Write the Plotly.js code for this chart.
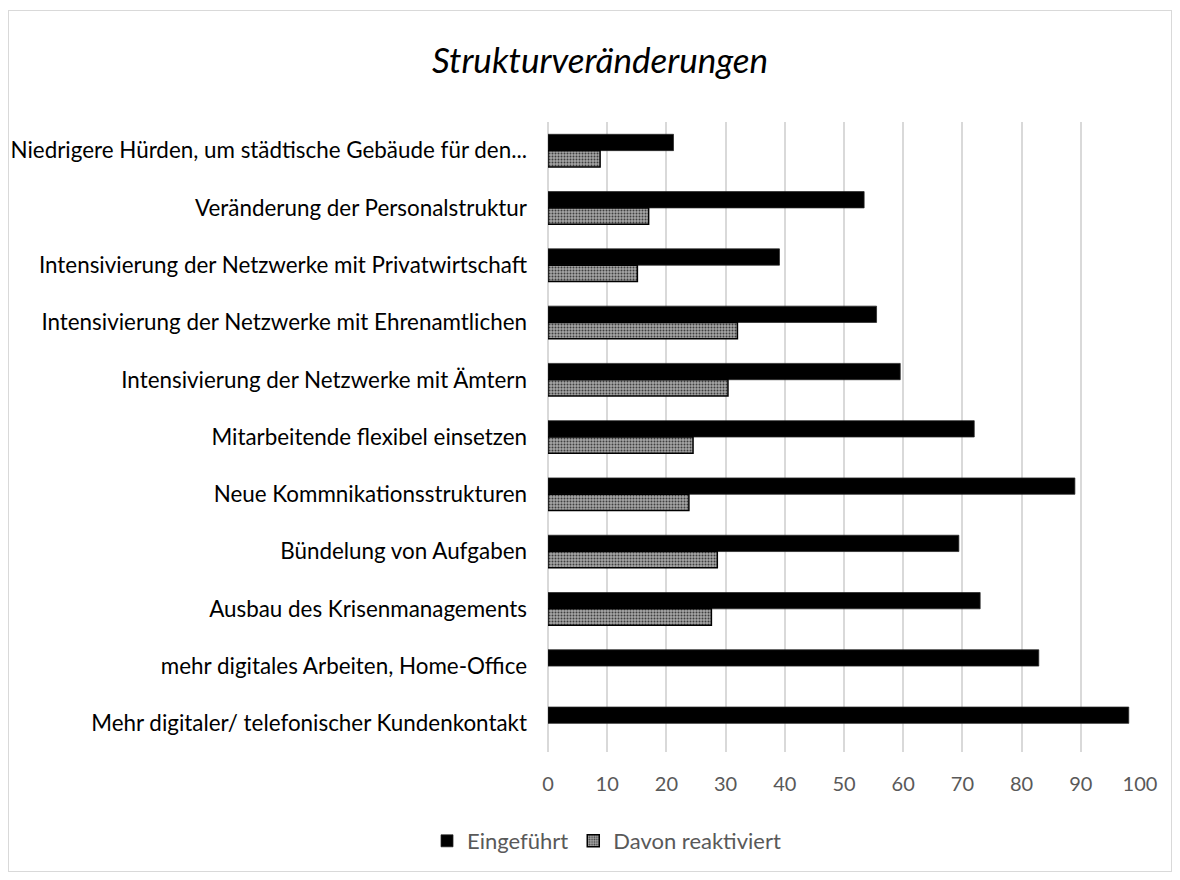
<!DOCTYPE html>
<html>
<head>
<meta charset="utf-8">
<script src="https://cdn.plot.ly/plotly-3.0.1.min.js"></script>
<style>
    body { margin: 0; background: #ffffff; }
    #chart { width: 1180px; height: 880px; }
    #frame {
        position: absolute; left: 8px; top: 10px; width: 1162px; height: 860px;
        border: 1px solid #d9d9d9; pointer-events: none;
    }
</style>
</head>
<body>
<div id="chart"></div>
<div id="frame"></div>
<script>
// Kategorien (von oben nach unten)
const categories = [
    'Niedrigere Hürden, um städtische Gebäude für den...',
    'Veränderung der Personalstruktur',
    'Intensivierung der Netzwerke mit Privatwirtschaft',
    'Intensivierung der Netzwerke mit Ehrenamtlichen',
    'Intensivierung der Netzwerke mit Ämtern',
    'Mitarbeitende flexibel einsetzen',
    'Neue Kommnikationsstrukturen',
    'Bündelung von Aufgaben',
    'Ausbau des Krisenmanagements',
    'mehr digitales Arbeiten, Home-Office',
    'Mehr digitaler/ telefonischer Kundenkontakt'
];
const eingefuehrt = [21.2, 53.4, 39.1, 55.5, 59.5, 72.0, 89.0, 69.4, 73.0, 82.9, 98.1];
const reaktiviert = [8.8, 17.0, 15.1, 32.0, 30.4, 24.5, 23.8, 28.6, 27.6, null, null];
const xTicks = [0, 10, 20, 30, 40, 50, 60, 70, 80, 90, 100];

const FONT = 'Lato, "Open Sans", sans-serif';

const traces = [
    {
        name: 'Eingeführt', type: 'bar', orientation: 'h',
        y: categories, x: eingefuehrt,
        marker: { color: '#000000', line: { color: '#262626', width: 0.75 } },
        hoverinfo: 'x+y'
    },
    {
        name: 'Davon reaktiviert', type: 'bar', orientation: 'h',
        y: categories, x: reaktiviert,
        marker: {
            color: '#8c8c8c',
            line: { color: '#000000', width: 1.5 },
            pattern: { shape: '.', bgcolor: '#a6a6a6', fgcolor: '#3f3f3f', size: 3, solidity: 0.35 }
        },
        hoverinfo: 'x+y'
    }
];

const layout = {
    width: 1180, height: 880,
    paper_bgcolor: '#ffffff', plot_bgcolor: '#ffffff',
    font: { family: FONT, color: '#595959', size: 20 },
    margin: { l: 548, r: 40, t: 122, b: 128 },
    title: {
        text: 'Strukturveränderungen',
        font: { family: FONT, size: 35, color: '#000000', style: 'italic' },
        x: 600 / 1180, xref: 'container', xanchor: 'center',
        y: 1 - 61 / 880, yref: 'container', yanchor: 'middle'
    },
    barmode: 'group', bargap: 0.43, bargroupgap: 0,
    xaxis: {
        range: [0, 100], tickvals: xTicks, ticktext: xTicks.map(String),
        showgrid: true, gridcolor: '#d9d9d9', gridwidth: 1.5,
        zeroline: true, zerolinecolor: '#d9d9d9', zerolinewidth: 1.5,
        showline: false, ticks: '', ticklabelstandoff: 18,
        tickfont: { family: FONT, size: 20, color: '#595959' }
    },
    yaxis: {
        type: 'category', autorange: 'reversed',
        showgrid: false, zeroline: false, showline: false,
        ticks: '', ticklabelstandoff: 20,
        tickfont: { family: FONT, size: 22.4, color: '#000000' }
    },
    legend: {
        orientation: 'h', xref: 'container', yref: 'container',
        x: 0.514, xanchor: 'center', y: 1 - 841 / 880, yanchor: 'middle',
        font: { family: FONT, size: 22, color: '#595959' },
        traceorder: 'normal', itemwidth: 30
    },
    showlegend: true
};

Plotly.newPlot('chart', traces, layout, { displayModeBar: false, responsive: false });
</script>
</body>
</html>
